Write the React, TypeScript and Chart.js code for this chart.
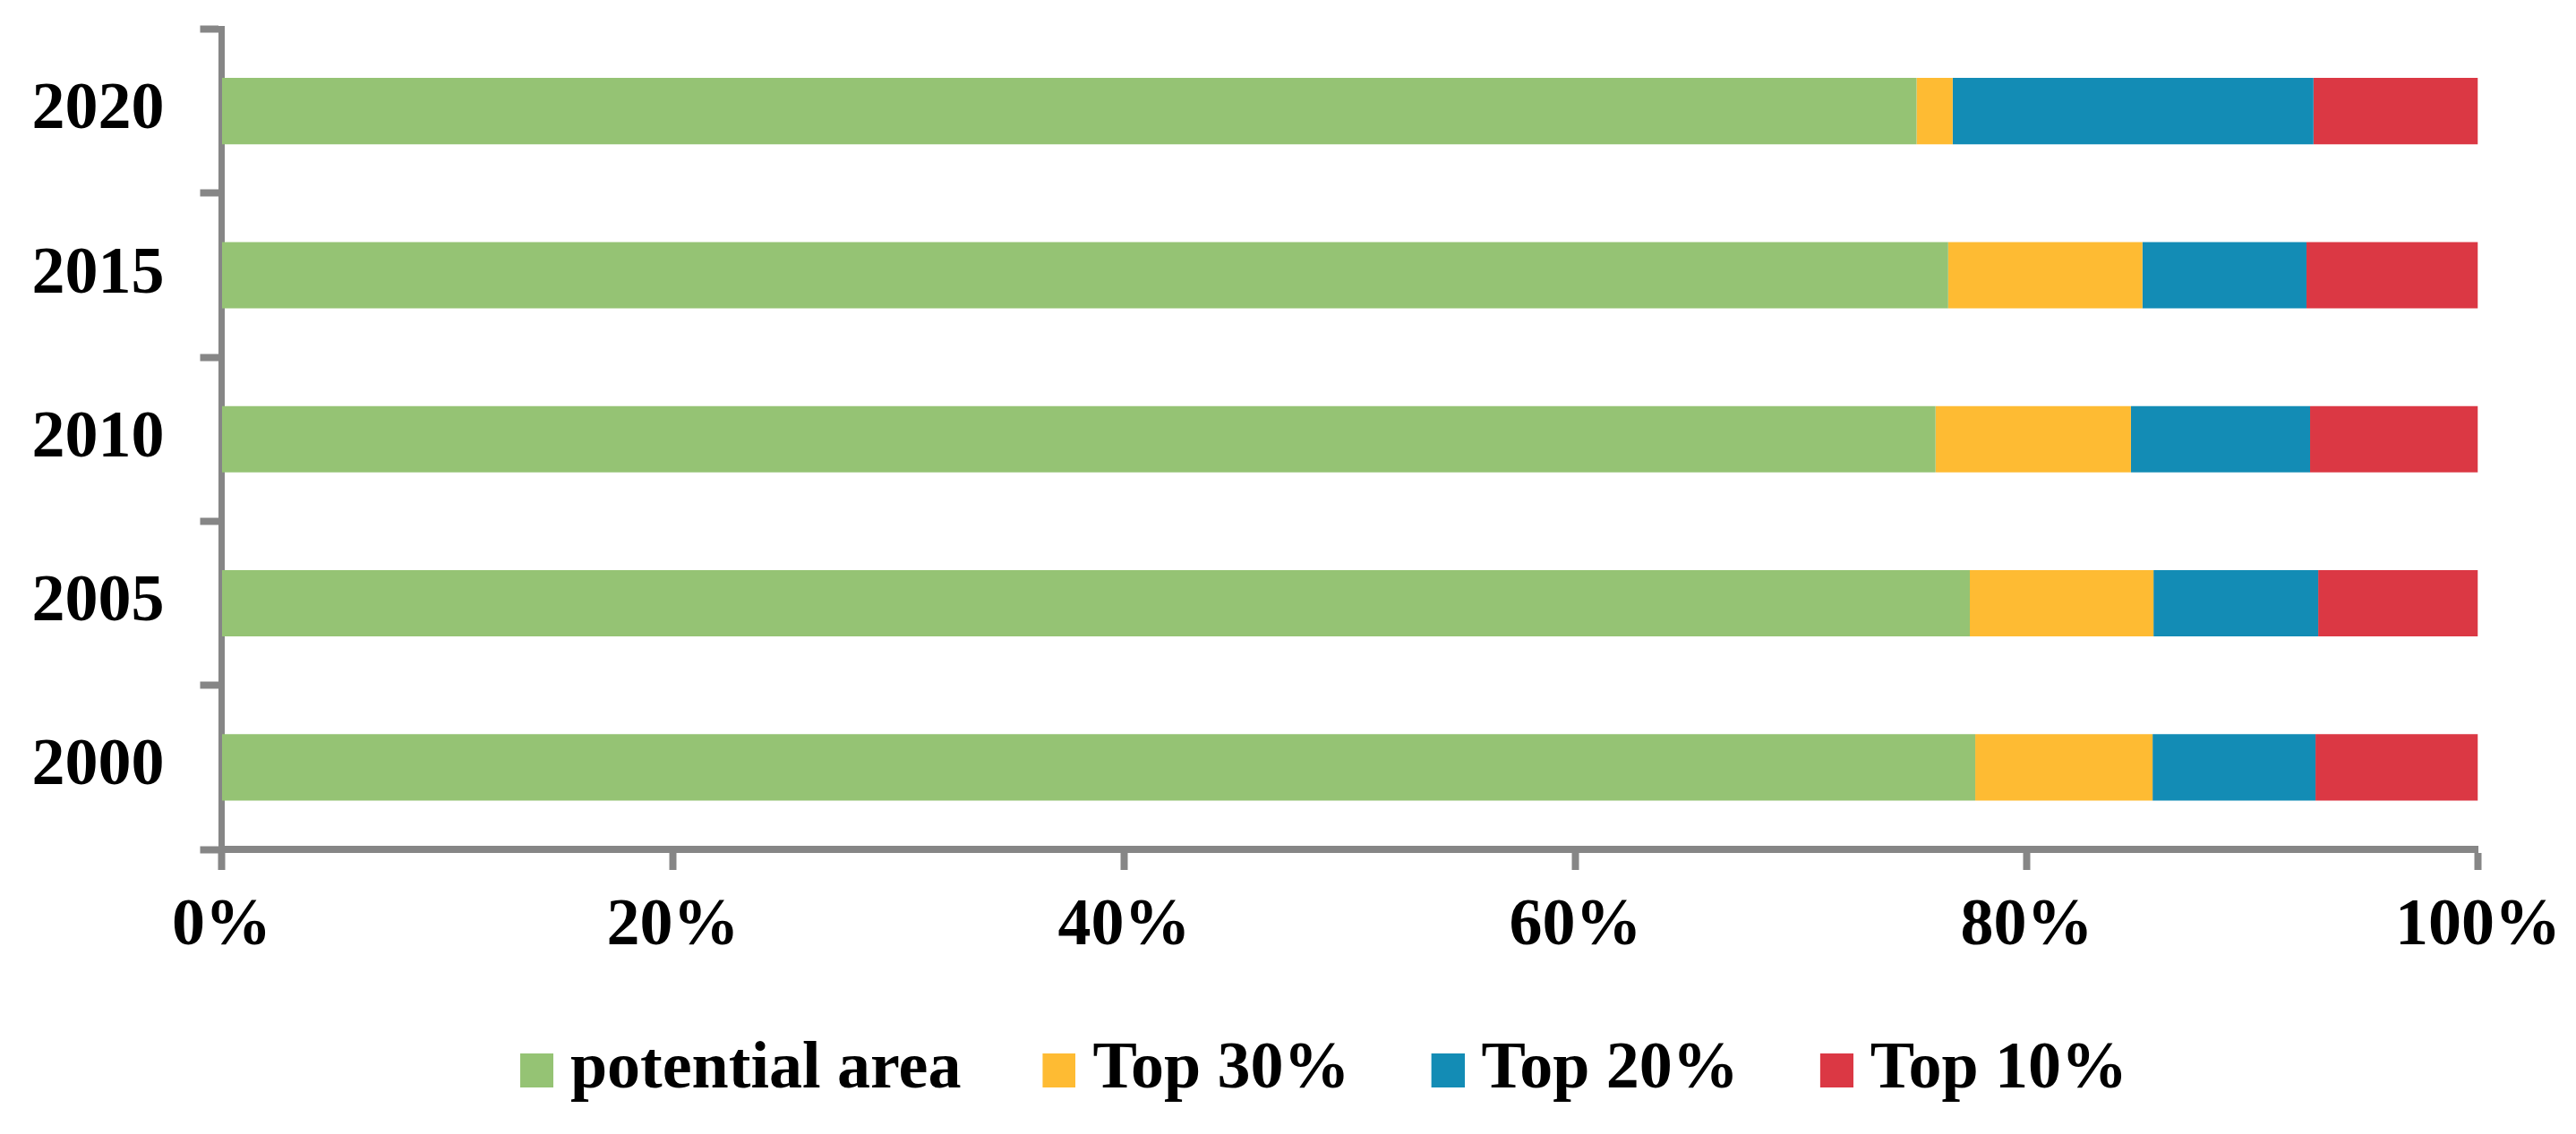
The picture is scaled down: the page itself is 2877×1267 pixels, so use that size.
import React, { useEffect, useRef } from "react";
import { Chart, registerables } from "chart.js";

Chart.register(...registerables);

// ---- data ----
const years = ["2000", "2005", "2010", "2015", "2020"];
const potentialArea = [77.72, 77.48, 75.96, 76.52, 75.12];
const top30 = [7.86, 8.14, 8.66, 8.61, 1.6];
const top20 = [7.22, 7.3, 7.94, 7.27, 15.99];
const top10 = [7.2, 7.08, 7.44, 7.6, 7.29];
const seriesNames = ["potential area", "Top 30%", "Top 20%", "Top 10%"];
const seriesColors = ["#95C374", "#FEBB33", "#138CB5", "#DB3844"];
const xTickValues = [0, 20, 40, 60, 80, 100];

const GRAY = "#868686";
const FONT = { family: "'Liberation Serif', 'Times New Roman', serif", size: 74, weight: "bold" as const };
const CANVAS_W = 2946;

// legend swatch: 37x38 square placed at the right part of a 56px-wide image
function makeSwatch(color: string): HTMLCanvasElement {
  const c = document.createElement("canvas");
  c.width = 56;
  c.height = 38;
  const g = c.getContext("2d");
  if (g) {
    g.fillStyle = color;
    g.fillRect(19, 0, 37, 38);
  }
  return c;
}

export default function App() {
  const ref = useRef<HTMLCanvasElement | null>(null);

  useEffect(() => {
    if (!ref.current) return;
    const seriesValues = [potentialArea, top30, top20, top10];
    const swatches = seriesColors.map(makeSwatch);
    const chart = new Chart(ref.current, {
      type: "bar",
      data: {
        labels: years,
        datasets: seriesNames.map((name, i) => ({
          label: name,
          data: seriesValues[i],
          backgroundColor: seriesColors[i],
          borderWidth: 0,
          barPercentage: 0.404,
          categoryPercentage: 1,
        })),
      },
      options: {
        indexAxis: "y",
        responsive: true,
        maintainAspectRatio: false,
        animation: false,
        events: [],
        layout: { padding: { left: 10, right: 0, top: 32.5, bottom: 24 } },
        plugins: {
          tooltip: { enabled: false },
          legend: {
            position: "bottom",
            labels: {
              usePointStyle: true,
              boxWidth: 20,
              padding: 90,
              color: "#000",
              font: FONT,
              generateLabels: (c: any) =>
                c.data.datasets.map((ds: any, i: number) => ({
                  text: ds.label,
                  fillStyle: ds.backgroundColor,
                  strokeStyle: ds.backgroundColor,
                  lineWidth: 0,
                  pointStyle: swatches[i],
                  hidden: false,
                  datasetIndex: i,
                  fontColor: "#000",
                })),
            },
          },
        },
        scales: {
          x: {
            stacked: true,
            min: 0,
            max: 100,
            afterBuildTicks: (s: any) => {
              s.ticks = xTickValues.map((v) => ({ value: v }));
            },
            afterFit: (s: any) => {
              s.height = 120;
              s.paddingLeft = 0;
              s.paddingRight = CANVAS_W - 2767.5;
            },
            grid: {
              drawOnChartArea: false,
              drawTicks: true,
              tickLength: 23,
              tickWidth: 8,
              tickColor: GRAY,
            },
            border: { display: true, color: GRAY, width: 8 },
            ticks: {
              padding: 19,
              color: "#000",
              font: FONT,
              maxRotation: 0,
              autoSkip: false,
              callback: (v: any) => v + "%",
            },
          },
          y: {
            stacked: true,
            reverse: true,
            afterFit: (s: any) => {
              s.width = 237.5;
              s.paddingTop = 0;
              s.paddingBottom = 0;
            },
            grid: {
              drawOnChartArea: false,
              drawTicks: true,
              tickLength: 24,
              tickWidth: 8,
              tickColor: GRAY,
              offset: true,
            },
            border: { display: true, color: GRAY, width: 7 },
            ticks: { padding: 40, color: "#000", font: FONT },
          },
        },
      },
    } as any);
    return () => chart.destroy();
  }, []);

  return (
    <div
      style={{
        position: "fixed",
        left: 0,
        top: 0,
        width: "2877px",
        height: "1267px",
        overflow: "hidden",
        background: "#fff",
      }}
    >
      <div style={{ position: "absolute", left: 0, top: 0, width: CANVAS_W + "px", height: "1267px" }}>
        <canvas ref={ref} />
      </div>
    </div>
  );
}
